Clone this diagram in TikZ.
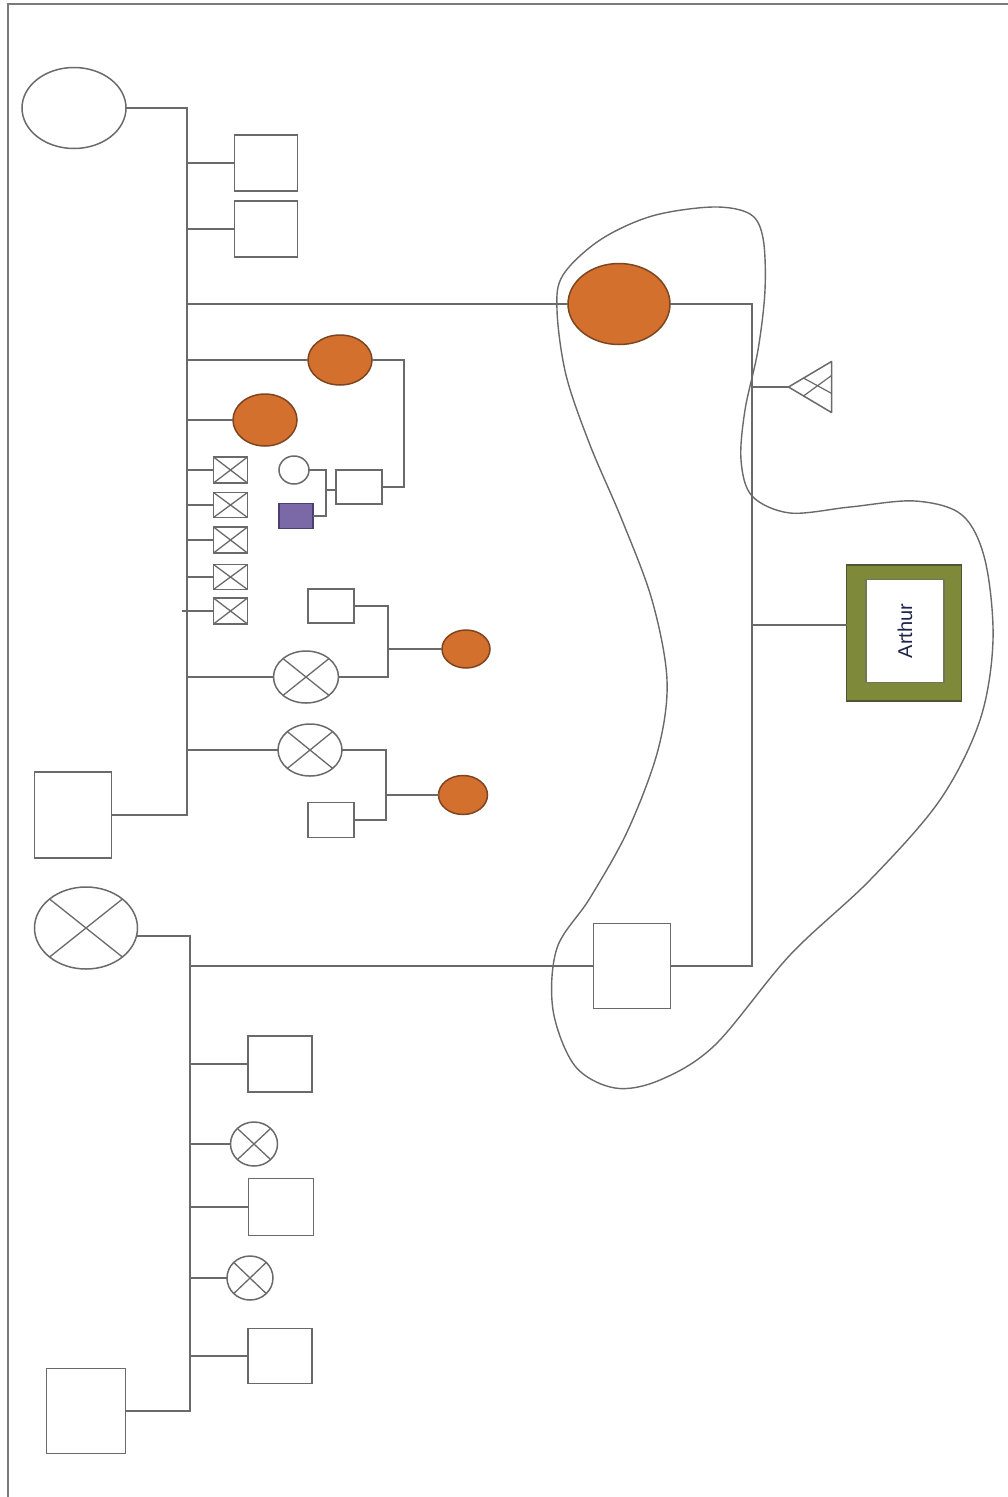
\documentclass[tikz,border=0pt]{standalone}
\usepackage{fontspec}
\setmainfont{Liberation Sans}
\usetikzlibrary{shapes.geometric,calc}
\definecolor{ln}{HTML}{6A6A6A}
\definecolor{frame}{HTML}{7A7A7A}
\definecolor{orf}{HTML}{D4702E}
\definecolor{orbd}{HTML}{7E4520}
\definecolor{purf}{HTML}{7B68A6}
\definecolor{purbd}{HTML}{4B3F72}
\definecolor{olivef}{HTML}{7F893A}
\definecolor{olivebd}{HTML}{4E5530}
\definecolor{txt}{HTML}{1E2448}
\begin{document}
\begin{tikzpicture}[x=1pt,y=-1pt,
  every node/.style={inner sep=0pt, outer sep=0pt},
  sz/.style 2 args={minimum width=#1pt, minimum height=#2pt},
  link/.style={draw=ln, line width=1.7pt},
  male/.style={rectangle, draw=ln, fill=white, line width=1.7pt},
  female/.style={ellipse, draw=ln, fill=white, line width=1.5pt},
  affected/.style={ellipse, draw=orbd, fill=orf, line width=1.5pt},
  purplebox/.style={rectangle, draw=purbd, fill=purf, line width=1.5pt},
  crossed/.style={path picture={\draw[ln, line width=1.3pt]
      (path picture bounding box.north west) -- (path picture bounding box.south east)
      (path picture bounding box.north east) -- (path picture bounding box.south west);}},
  lasso/.style={draw=ln, line width=1.4pt},
]
\useasboundingbox (0,0) rectangle (1008,1497);
% frame
\draw[frame, line width=2.5pt] (8,1497) -- (8,4) -- (1008,4);

% lasso
\draw[lasso] plot[smooth cycle, tension=0.55] coordinates {
(713,207) (750,214) (763,238) (765,290) (758,350) (745,410) (741,460) (752,496)
(790,513) (850,507) (915,501) (962,515) (985,560) (993,640) (980,720) (940,800)
(870,880) (790,955) (715,1045) (660,1080) (615,1088) (575,1066) (553,1010) (557,948)
(590,898) (628,830) (658,750) (667,680) (652,600) (622,520) (590,445) (566,375)
(557,310) (563,275) (600,240) (652,216)};

% ---------- top family ----------
\node[female, sz={104}{81}] (tm) at (74,108) {};
\node[male, sz={77}{86}] (tf) at (73,815) {};
\coordinate (t1) at (187,108);
\coordinate (t2) at (187,815);

\node[male, sz={63}{56}] (c1) at (266,163) {};
\node[male, sz={63}{56}] (c2) at (266,229) {};
\node[affected, sz={102}{81}] (bo) at (619,304) {};
\node[affected, sz={64}{50}] (o1) at (340,360) {};
\node[affected, sz={64}{52}] (o2) at (265,420) {};
\node[male, crossed, sz={34}{26}] (xb1) at (230.5,470) {};
\node[male, crossed, sz={34}{25}] (xb2) at (230.5,505) {};
\node[male, crossed, sz={34}{26}] (xb3) at (230.5,540) {};
\node[male, crossed, sz={34}{25}] (xb4) at (230.5,577) {};
\node[male, crossed, sz={34}{26}] (xb5) at (230.5,611) {};
\node[female, crossed, sz={65}{52}] (xc1) at (306,677) {};
\node[female, crossed, sz={64}{52}] (xc2) at (310,750) {};

\draw[link] (tm.east) -- (t1) -- (t2) -- (tf.east);
\foreach \n in {c1,c2,bo,o1,o2,xb1,xb2,xb3,xb4,xc1,xc2}
  \draw[link] (\n.west) -- (\n.west -| t1);
\draw[link] (xb5.west) -- ([xshift=-5pt]xb5.west -| t1);

% o1's family
\node[female, sz={30}{28}] (sc) at (294,470) {};
\node[purplebox, sz={34}{25}] (pb) at (296,516) {};
\node[male, sz={46}{34}] (mb) at (359,487) {};
\coordinate (m1) at (326,490);
\draw[link] (sc.east) -| (m1) |- (pb.east);
\draw[link] (m1) -- (m1 -| mb.west);
\draw[link] (o1.east) -- ++(32,0) |- (mb.east);

% xc1's family
\node[male, sz={46}{34}] (sb1) at (331,606) {};
\node[affected, sz={48}{38}] (oc1) at (466,649) {};
\coordinate (m2) at (388,649);
\draw[link] (sb1.east) -| (m2) |- (xc1.east);
\draw[link] (m2) -- (oc1.west);

% xc2's family
\node[male, sz={46}{35}] (sb2) at (331,820) {};
\node[affected, sz={49}{39}] (oc2) at (463,795) {};
\coordinate (m3) at (386,795);
\draw[link] (xc2.east) -| (m3) |- (sb2.east);
\draw[link] (m3) -- (oc2.west);

% ---------- bottom family ----------
\node[female, crossed, sz={103}{82}] (bx) at (86,928) {};
\node[male, sz={79}{85}] (bf) at (86,1411) {};
\coordinate (b1) at (190,936);
\coordinate (b2) at (190,1411);
\draw[link] (bx.-9) -- (b1) -- (b2) -- (bf.east);

\node[male, sz={64}{56}] (bc1) at (280,1064) {};
\node[female, crossed, sz={47}{44}] (bxc1) at (254,1144) {};
\node[male, sz={65}{57}] (bc2) at (281,1207) {};
\node[female, crossed, sz={46}{44}] (bxc2) at (250,1278) {};
\node[male, sz={64}{55}] (bc3) at (280,1356) {};
\foreach \n in {bc1,bxc1,bc2,bxc2,bc3}
  \draw[link] (\n.west) -- (\n.west -| b1);

\node[male, sz={77}{85}] (br) at (632,966) {};
\draw[link] (br.west) -- (br.west -| b1);

% ---------- right family ----------
\coordinate (rt) at (752,304);
\coordinate (rb) at (752,966);
\draw[link] (bo.east) -- (rt) -- (rb) -- (br.east);

% triangle (pregnancy, crossed)
\node[sz={43}{51}] (tri) at (810,387) {};
\draw[ln, line width=1.5pt, line join=round] (tri.west) -- (tri.north east) -- (tri.south east) -- cycle;
\draw[ln, line width=1.2pt]
  ($(tri.west)!0.35!(tri.north east)$) -- ($(tri.east)!0.25!(tri.south east)$)
  ($(tri.west)!0.35!(tri.south east)$) -- ($(tri.east)!0.45!(tri.north east)$);
\draw[link] (tri.west) -- (tri.west -| rt);

% Arthur
\node[rectangle, draw=olivebd, fill=olivef, line width=1.6pt, sz={115}{136}] (ar) at (904,633) {};
\node[rectangle, draw=olivebd!80, fill=white, line width=1.6pt, sz={78}{103}] (arin) at (905,631)
  {\rotatebox{90}{\color{txt}\fontsize{20}{22}\selectfont Arthur}};
\draw[link] ([yshift=8pt]ar.west) -- ([yshift=8pt]ar.west -| rt);
\end{tikzpicture}
\end{document}
